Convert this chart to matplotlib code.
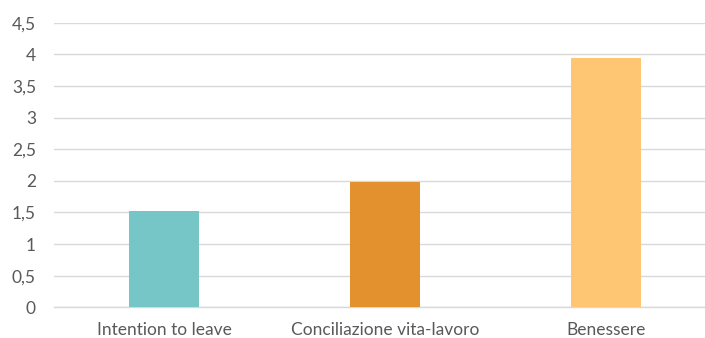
import matplotlib
matplotlib.use("Agg")
import matplotlib.pyplot as plt
from matplotlib.ticker import FuncFormatter, MultipleLocator

categories = ["Intention to leave", "Conciliazione vita-lavoro", "Benessere"]
values = [1.52, 1.98, 3.94]
colors = ["#76C6C8", "#E3912F", "#FEC672"]

plt.rcParams["font.family"] = ["Lato", "DejaVu Sans"]

W, H = 705, 338
fig = plt.figure(figsize=(W / 100, H / 100), dpi=100)
left, right = 54, 705
bottom, top = 307.3, 22.7
ax = fig.add_axes([left / W, (H - bottom) / H, (right - left) / W, (bottom - top) / H])

x = list(range(len(categories)))
ax.bar(x, values, width=0.317, color=colors, zorder=3)

ax.set_ylim(0, 4.5)
ax.set_xlim(-0.5, 2.448)
ax.yaxis.set_major_locator(MultipleLocator(0.5))
ax.yaxis.set_major_formatter(FuncFormatter(lambda v, p: f"{v:g}".replace(".", ",")))
ax.set_xticks(x)
ax.set_xticklabels(categories)

ax.grid(axis="y", color="#D9D9D9", linewidth=1.0, zorder=0)
ax.set_axisbelow(True)
for s in ["top", "right", "left"]:
    ax.spines[s].set_visible(False)
ax.spines["bottom"].set_color("#D9D9D9")
ax.spines["bottom"].set_linewidth(1.0)
ax.tick_params(axis="both", length=0, labelsize=12.5, colors="#595959")
ax.tick_params(axis="y", pad=13)
ax.tick_params(axis="x", pad=10.5)

fig.savefig("out.png", dpi=100)
